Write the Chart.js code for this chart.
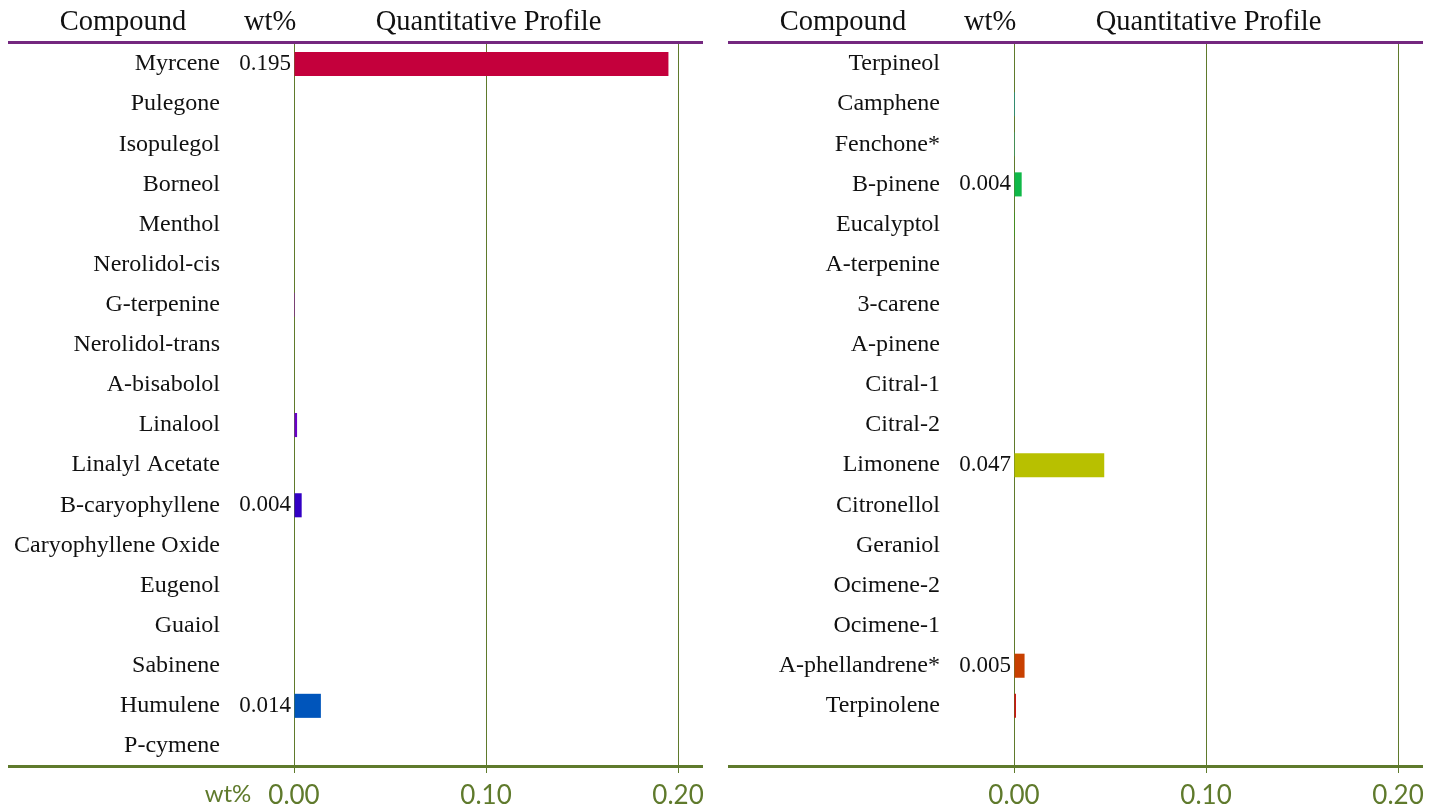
<!DOCTYPE html>
<html>
<head>
<meta charset="utf-8">
<script src="https://cdn.jsdelivr.net/npm/chart.js@4"></script>
<style>
  html, body { margin: 0; padding: 0; background: #fff; }
  #wrap { position: relative; width: 1446px; height: 804px; }
  .panel { position: absolute; top: 0; width: 720px; height: 804px; }
</style>
</head>
<body>
<div id="wrap">
  <div class="panel" style="left:0"><canvas id="leftChart"></canvas></div>
  <div class="panel" style="left:720px"><canvas id="rightChart"></canvas></div>
</div>
<script>
// ===== Data =====
const leftCompounds = ['Myrcene','Pulegone','Isopulegol','Borneol','Menthol','Nerolidol-cis','G-terpenine',
  'Nerolidol-trans','A-bisabolol','Linalool','Linalyl Acetate','B-caryophyllene','Caryophyllene Oxide',
  'Eugenol','Guaiol','Sabinene','Humulene','P-cymene'];
const leftValues = [0.195, 0, 0, 0, 0, 0, 0.0005, 0, 0, 0.0016, 0, 0.004, 0, 0, 0, 0, 0.014, 0];
const leftColors = ['#c4003c','#c4003c','#c4003c','#c4003c','#c4003c','#c4003c','#9a00c8',
  '#9a00c8','#7a00c8','#6a00c8','#4a00c8','#3300c4','#2a10c0','#2030c0','#1040c0','#0050c0','#0055bb','#0060bb'];

const rightCompounds = ['Terpineol','Camphene','Fenchone*','B-pinene','Eucalyptol','A-terpenine','3-carene',
  'A-pinene','Citral-1','Citral-2','Limonene','Citronellol','Geraniol','Ocimene-2','Ocimene-1',
  'A-phellandrene*','Terpinolene',''];
const rightValues = [0, 0.0005, 0.0004, 0.004, 0.0004, 0, 0, 0.0003, 0, 0, 0.047, 0, 0, 0, 0, 0.0055, 0.001, null];
const rightColors = ['#0090c0','#00a0c0','#00c8c8','#10b848','#00c000','#30c000','#50c800',
  '#66cc00','#80c800','#a0c400','#b8c000','#c0a000','#c88000','#c86000','#c85000','#c84000','#cc0000','#cc0000'];

const xTicks = [0, 0.10, 0.20];
const xMax = 0.213;
const labelMin = 0.003; // smaller values are drawn without a number

const OLIVE = '#5f7a2c';
const PURPLE = '#74287f';
const SERIF = '"Liberation Serif", "Times New Roman", serif';

// ===== Decorations: header, rules, value labels =====
const panelDeco = {
  id: 'panelDeco',
  beforeDatasetsDraw(chart, args, opts) {
    const ctx = chart.ctx;
    const a = chart.chartArea;
    ctx.save();
    // top purple rule
    ctx.fillStyle = PURPLE;
    ctx.fillRect(8, 41, a.right - 8, 3);
    // bottom olive rule
    ctx.fillStyle = OLIVE;
    ctx.fillRect(8, a.bottom - 1, a.right - 8, 3);
    ctx.restore();
  },
  afterDatasetsDraw(chart, args, opts) {
    const ctx = chart.ctx;
    const a = chart.chartArea;
    const xs = chart.scales.x, ys = chart.scales.y;
    ctx.save();
    // header
    ctx.fillStyle = '#111';
    ctx.font = '28.5px ' + SERIF;
    ctx.textAlign = 'center';
    ctx.textBaseline = 'middle';
    ctx.fillText('Compound', a.left - 171, 23);
    ctx.fillText('wt%', a.left - 24, 23);
    ctx.fillText('Quantitative Profile', (a.left + a.right) / 2 - 10, 23);
    // value labels
    ctx.font = '23px ' + SERIF;
    ctx.textAlign = 'right';
    const vals = chart.data.datasets[0].data;
    vals.forEach((v, i) => {
      if (v != null && v >= labelMin) {
        ctx.fillText(v.toFixed(3), xs.getPixelForValue(0) - 3, ys.getPixelForValue(i));
      }
    });
    // axis title under the left panel
    if (opts.axisTitle) {
      ctx.fillStyle = OLIVE;
      ctx.font = '24px Lato, "Open Sans", sans-serif';
      ctx.textAlign = 'center';
      ctx.fillText('wt%', a.left - 66, 794);
    }
    ctx.restore();
  }
};

function makeChart(id, labels, values, colors, axisTitle) {
  const ctx = document.getElementById(id).getContext('2d');
  return new Chart(ctx, {
    type: 'bar',
    data: {
      labels: labels,
      datasets: [{
        data: values,
        backgroundColor: colors,
        barPercentage: 0.6,
        categoryPercentage: 1.0
      }]
    },
    options: {
      indexAxis: 'y',
      responsive: true,
      maintainAspectRatio: false,
      animation: false,
      layout: { padding: { top: 44, right: 17, left: 0, bottom: 0 } },
      plugins: {
        legend: { display: false },
        tooltip: { enabled: false },
        panelDeco: { axisTitle: axisTitle }
      },
      scales: {
        x: {
          min: 0,
          max: xMax,
          afterBuildTicks: s => { s.ticks = xTicks.map(v => ({ value: v })); },
          afterFit: s => { s.height = 38; s.paddingLeft = 0; s.paddingRight = 0; },
          border: { display: false },
          grid: { color: OLIVE, lineWidth: 1, tickLength: 7, drawOnChartArea: true },
          ticks: {
            color: OLIVE,
            padding: 7,
            font: { family: 'Lato, "Open Sans", sans-serif', size: 26 },
            callback: v => Number(v).toFixed(2)
          }
        },
        y: {
          afterFit: s => { s.width = 294; s.paddingTop = 0; s.paddingBottom = 0; },
          border: { display: false },
          grid: { display: false, drawTicks: false },
          ticks: {
            color: '#111',
            padding: 74,
            autoSkip: false,
            font: { family: SERIF, size: 24 }
          }
        }
      }
    },
    plugins: [panelDeco]
  });
}

makeChart('leftChart', leftCompounds, leftValues, leftColors, true);
makeChart('rightChart', rightCompounds, rightValues, rightColors, false);
</script>
</body>
</html>
